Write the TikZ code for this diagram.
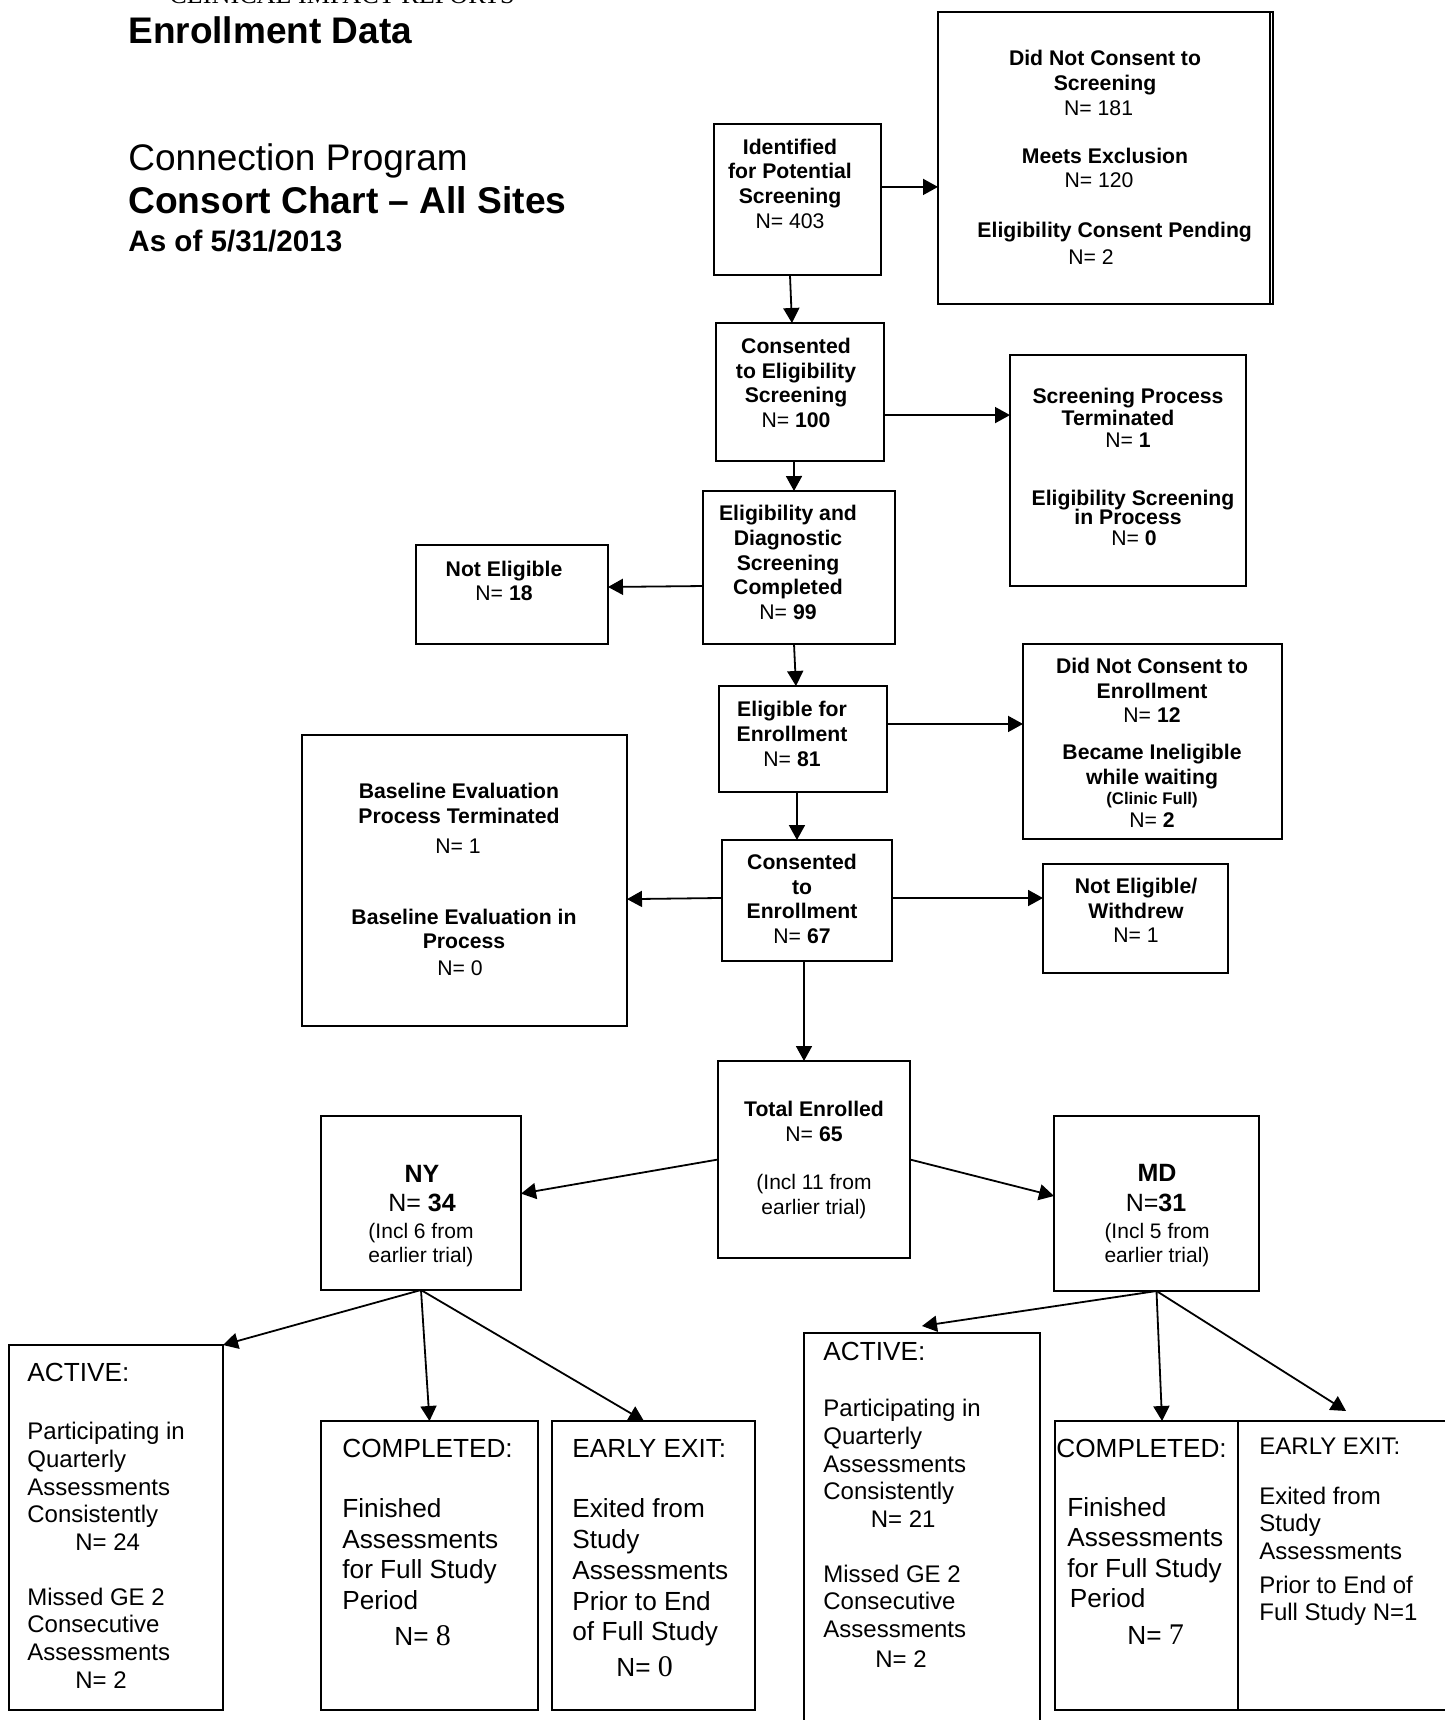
\documentclass[tikz,border=0pt]{standalone}
\usepackage{fontspec}
\setmainfont{Liberation Sans}
\newfontfamily\tnr{Liberation Serif}
\usetikzlibrary{arrows.meta,calc,fit}
\newcommand\stk[2]{\begin{tabular}[t]{@{}#1@{}}#2\end{tabular}}
\begin{document}
\begin{tikzpicture}[x=0.5pt,y=-0.5pt,
  bx/.style={draw, line width=0.85pt, inner sep=0pt, outer sep=0pt},
  arr/.style={-{Triangle[length=7.5pt,width=8pt]}, line width=0.9pt},
  tc/.style={inner sep=0pt, anchor=base},
  tw/.style={inner sep=0pt, anchor=base west},
  ub/.style={font=\fontsize{10.6pt}{12.35pt}\selectfont\bfseries},
  ur/.style={font=\fontsize{10.6pt}{12.35pt}\selectfont},
  hd13/.style={font=\fontsize{13.1pt}{15pt}\selectfont},
  b12/.style={font=\fontsize{12pt}{13.8pt}\selectfont},
  b13/.style={font=\fontsize{13.1pt}{15.25pt}\selectfont}
]
\path[use as bounding box, fill=white] (0,0) rectangle (1445,1720);

% ---------- boxes ----------
\node[bx, fit={(714,124) (881,275)}] (A) {};
\node[bx, fit={(938,12) (1273,304)}] (B) {};
\draw[line width=0.85pt] ([xshift=-1.6pt]B.north east) -- ([xshift=-1.6pt]B.south east);
\node[bx, fit={(716,323) (884,461)}] (C) {};
\node[bx, fit={(1010,355) (1246,586)}] (D) {};
\node[bx, fit={(703,491) (895,644)}] (E) {};
\node[bx, fit={(416,545) (608,644)}] (F) {};
\node[bx, fit={(719,686) (887,792)}] (G) {};
\node[bx, fit={(1023,644) (1282,839)}] (H) {};
\node[bx, fit={(722,840) (892,961)}] (I) {};
\node[bx, fit={(302,735) (627,1026)}] (J) {};
\node[bx, fit={(1043,864) (1228,973)}] (K) {};
\node[bx, fit={(718,1061) (910,1258)}] (L) {};
\node[bx, fit={(321,1116) (521,1290)}] (M) {};
\node[bx, fit={(1054,1116) (1259,1291)}] (N) {};
\node[bx, fit={(9,1345) (223,1710)}] (O) {};
\node[bx, fit={(321,1421) (538,1710)}] (P) {};
\node[bx, fit={(552,1421) (755,1710)}] (Q) {};
\node[bx, fit={(804,1333) (1040,1730)}] (R) {};
\node[bx, fit={(1055,1421) (1238,1710)}] (S) {};
\node[bx, fit={(1238,1421) (1452,1710)}] (T) {};

% ---------- title ----------
\node[tw, font=\tnr\fontsize{13.1pt}{15pt}\selectfont] (t0) at (169,3.3) {CLINICAL IMPACT REPORTS};
\node[tw, font=\fontsize{18.5pt}{22pt}\selectfont\bfseries] (t1) at (128,43.3) {Enrollment Data};
\node[tw, font=\fontsize{18.5pt}{22pt}\selectfont] (t2) at (128,170) {Connection Program};
\node[tw, font=\fontsize{18.6pt}{22pt}\selectfont\bfseries] (t3) at (128,213.3) {Consort Chart – All Sites};
\node[tw, font=\fontsize{14.8pt}{18pt}\selectfont\bfseries] (t4) at (128,251.7) {As of 5/31/2013};

% ---------- upper texts ----------
\node[tc,ub] (tA) at (790,154) {\stk{c}{Identified\\for Potential\\Screening\\\mdseries N= 403}};
\node[tc,ub] (tB) at (1105,65.7) {\stk{c}{Did Not Consent to\\Screening\\\mdseries N= 181\hspace*{6.4pt}\\[11.7pt]Meets Exclusion\\\mdseries N= 120\hspace*{6pt}\\[12.2pt]\hspace*{9.7pt}Eligibility Consent Pending\\[1.4pt]\mdseries N= 2\hspace*{14pt}}};
\node[tc,ub] (tC) at (796,353.3) {\stk{c}{Consented\\to Eligibility\\Screening\\{\mdseries N=} 100}};
\node[tc,font=\fontsize{10.6pt}{11pt}\selectfont\bfseries] (tD1) at (1128,403.3) {\stk{c}{Screening Process\\Terminated\hspace*{10pt}\\{\mdseries N=} 1}};
\node[tc,ub] (tD2) at (1133,505.7) {Eligibility Screening};
\node[tc,ub] (tD3) at (1128,524) {in Process};
\node[tc,ub] (tD4) at (1134,545) {{\mdseries N=} 0};
\node[tc,ub] (tE) at (788,520.7) {\stk{c}{Eligibility and\\Diagnostic\\Screening\\Completed\\{\mdseries N=} 99}};
\node[tc,ub] (tF) at (504,576) {\stk{c}{Not Eligible\\{\mdseries N=} 18}};
\node[tc,ub] (tG) at (792,716.7) {\stk{c}{Eligible for\\Enrollment\\{\mdseries N=} 81}};
\node[tc,ub] (tH1) at (1152,673.3) {\stk{c}{Did Not Consent to\\Enrollment\\{\mdseries N=} 12}};
\node[tc,ub] (tH2) at (1152,759.3) {\stk{c}{Became Ineligible\\while waiting}};
\node[tc,font=\fontsize{8.4pt}{10pt}\selectfont\bfseries] (tH3) at (1152,804) {(Clinic Full)};
\node[tc,ub] (tH4) at (1152,827.3) {{\mdseries N=} 2};
\node[tc,ub] (tI) at (802,869.3) {\stk{c}{Consented\\to\\Enrollment\\{\mdseries N=} 67}};
\node[tc,ub] (tJ1) at (459,798.3) {\stk{c}{Baseline Evaluation\\Process Terminated}};
\node[tc,ur] (tJ2) at (458,853.3) {N= 1};
\node[tc,ub] (tJ3) at (464,924) {\stk{c}{Baseline Evaluation in\\Process}};
\node[tc,ur] (tJ4) at (460,975) {N= 0};
\node[tc,ub] (tK) at (1136,893.3) {\stk{c}{Not Eligible/\\Withdrew\\\mdseries N= 1}};
\node[tc,ub] (tL1) at (814,1116.8) {\stk{c}{Total Enrolled\\{\mdseries N=} 65}};
\node[tc,font=\fontsize{10.5pt}{12.35pt}\selectfont] (tL2) at (814,1189.6) {\stk{c}{(Incl 11 from\\earlier trial)}};
\node[tc,font=\fontsize{12.5pt}{14pt}\selectfont\bfseries] (tM1) at (422,1182.2) {NY};
\node[tc,font=\fontsize{12.5pt}{14pt}\selectfont] (tM2) at (422,1211.3) {N= \textbf{34}};
\node[tc,font=\fontsize{10.5pt}{11.9pt}\selectfont] (tM3) at (421,1238.2) {\stk{c}{(Incl 6 from\\earlier trial)}};
\node[tc,font=\fontsize{12.5pt}{14pt}\selectfont\bfseries] (tN1) at (1157,1181.8) {MD};
\node[tc,font=\fontsize{12.5pt}{14pt}\selectfont] (tN2) at (1156,1211.3) {N=\textbf{31}};
\node[tc,font=\fontsize{10.5pt}{11.9pt}\selectfont] (tN3) at (1157,1238.2) {\stk{c}{(Incl 5 from\\earlier trial)}};

% ---------- lower texts ----------
\node[tw,hd13] (tO1) at (27,1381.7) {ACTIVE:};
\node[tw,b12] (tO2) at (27,1439.8) {\stk{l}{Participating in\\Quarterly\\Assessments\\Consistently\\\hspace*{24pt}N= 24\\[13.75pt]Missed GE 2\\Consecutive\\Assessments\\\hspace*{24pt}N= 2}};
\node[tw,hd13] (tP1) at (342,1457.2) {COMPLETED:};
\node[tw,b13] (tP2) at (342,1517.9) {\stk{l}{Finished\\Assessments\\for Full Study\\Period}};
\node[tw,b13] (tP3) at (394,1645) {N= {\tnr\fontsize{15pt}{17pt}\selectfont 8}};
\node[tw,hd13] (tQ1) at (572,1457.2) {EARLY EXIT:};
\node[tw,font=\fontsize{13.1pt}{15.35pt}\selectfont] (tQ2) at (572,1517.9) {\stk{l}{Exited from\\Study\\Assessments\\Prior to End\\of Full Study}};
\node[tw,b13] (tQ3) at (616,1676.6) {N= {\tnr\fontsize{15pt}{17pt}\selectfont 0}};
\node[tw,hd13] (tR1) at (823,1360) {ACTIVE:};
\node[tw,font=\fontsize{12pt}{13.9pt}\selectfont] (tR2) at (823,1416.4) {\stk{l}{Participating in\\Quarterly\\Assessments\\Consistently\\\hspace*{23.75pt}N= 21}};
\node[tw,font=\fontsize{12pt}{13.9pt}\selectfont] (tR3) at (823,1582) {\stk{l}{Missed GE 2\\Consecutive\\Assessments\\[0.85pt]\hspace*{26pt}N= 2}};
\node[tw,hd13] (tS1) at (1056,1457.2) {COMPLETED:};
\node[tw,b13] (tS2) at (1067,1516.2) {\stk{l}{Finished\\Assessments\\for Full Study\\\hspace*{1.2pt}Period}};
\node[tw,b13] (tS3) at (1127,1644) {N= {\tnr\fontsize{15pt}{17pt}\selectfont 7}};
\node[tw,font=\fontsize{12pt}{14pt}\selectfont] (tT1) at (1259,1454.1) {EARLY EXIT:};
\node[tw,b12] (tT2) at (1259,1504) {\stk{l}{Exited from\\Study\\Assessments\\[3.1pt]Prior to End of\\Full Study N=1}};

% ---------- connectors ----------
\draw[arr] ($(A.north east)!0.417!(A.south east)$) -- ($(B.north west)!0.599!(B.south west)$);
\draw[arr] ($(A.south west)!0.455!(A.south east)$) -- ($(C.north west)!0.452!(C.north east)$);
\draw[arr] ($(C.north east)!0.667!(C.south east)$) -- ($(D.north west)!0.26!(D.south west)$);
\draw[arr] ($(C.south west)!0.464!(C.south east)$) -- ($(E.north west)!0.474!(E.north east)$);
\draw[arr] ($(E.north west)!0.621!(E.south west)$) -- ($(F.north east)!0.424!(F.south east)$);
\draw[arr] ($(E.south west)!0.474!(E.south east)$) -- ($(G.north west)!0.458!(G.north east)$);
\draw[arr] ($(G.north east)!0.358!(G.south east)$) -- ($(H.north west)!0.41!(H.south west)$);
\draw[arr] ($(G.south west)!0.464!(G.south east)$) -- ($(I.north west)!0.441!(I.north east)$);
\draw[arr] ($(I.north west)!0.479!(I.south west)$) -- ($(J.north east)!0.564!(J.south east)$);
\draw[arr] ($(I.north east)!0.479!(I.south east)$) -- ($(K.north west)!0.312!(K.south west)$);
\draw[arr] ($(I.south west)!0.482!(I.south east)$) -- ($(L.north west)!0.448!(L.north east)$);
\draw[arr] (L.west) -- ($(M.north east)!0.446!(M.south east)$);
\draw[arr] (L.east) -- ($(N.north west)!0.457!(N.south west)$);
\draw[arr] (M.south) -- (O.north east);
\draw[arr] (M.south) -- (P.north);
\draw[arr] (M.south) -- ($(Q.north west)!0.453!(Q.north east)$);
\draw[arr] (N.south) -- ($(R.north)+(0,-7)$);
\draw[arr] (N.south) -- ($(S.north west)!0.585!(S.north east)$);
\draw[arr] (N.south) -- ($(T.north west)!0.505!(T.north east)+(0,-10)$);
\end{tikzpicture}
\end{document}
